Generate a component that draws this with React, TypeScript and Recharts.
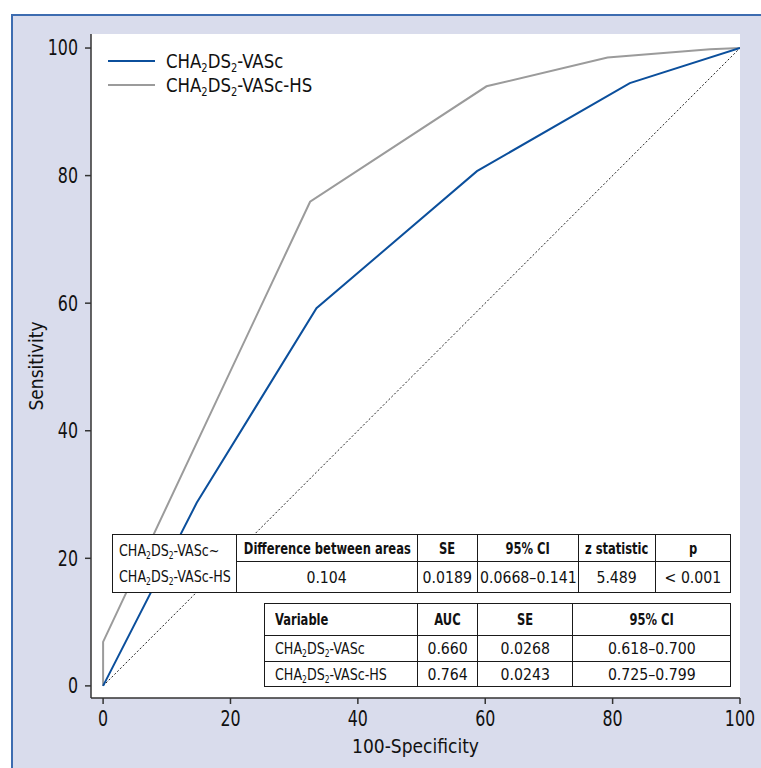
import React from "react";
import { CartesianGrid, Line, LineChart, XAxis, YAxis } from "recharts";

// ROC points (100-Specificity, Sensitivity)
const vascX = [0, 14.7, 33.5, 58.7, 82.7, 100];
const vascY = [0, 28.7, 59.2, 80.7, 94.5, 100];
const hsX = [0, 0, 32.5, 60.2, 79.2, 95.3, 100];
const hsY = [0, 6.9, 75.9, 94.0, 98.5, 99.8, 100];
const refX = [0, 100];
const refY = [0, 100];

const xTicks = [0, 20, 40, 60, 80, 100];
const yTicks = [0, 20, 40, 60, 80, 100];

const seriesNames = ["CHA2DS2-VASc", "CHA2DS2-VASc-HS"];
const seriesColors = ["#0b4f9c", "#9b9b9b"];

// comparison table
const diffLabels = ["CHA2DS2-VASc~", "CHA2DS2-VASc-HS"];
const diffHeaders = ["Difference between areas", "SE", "95% CI", "z statistic", "p"];
const diffValues = ["0.104", "0.0189", "0.0668–0.141", "5.489", "< 0.001"];

// AUC table
const aucHeaders = ["Variable", "AUC", "SE", "95% CI"];
const aucVariables = ["CHA2DS2-VASc", "CHA2DS2-VASc-HS"];
const aucValues = ["0.660", "0.764"];
const aucSE = ["0.0268", "0.0243"];
const aucCI = ["0.618–0.700", "0.725–0.799"];

const FONT = "'DejaVu Sans', sans-serif";
const BORDER = "1.5px solid #1a1a1a";

const toPoints = (xs: number[], ys: number[]) => xs.map((x, i) => ({ x, y: ys[i] }));

function Cha({ text }: { text: string }) {
  const parts = text.split("2");
  return (
    <>
      {parts.map((p, i) => (
        <span key={i}>
          {p}
          {i < parts.length - 1 && (
            <sub style={{ fontSize: "0.6em", verticalAlign: "-0.3em", lineHeight: 0 }}>2</sub>
          )}
        </span>
      ))}
    </>
  );
}

// squeeze text horizontally to mimic the condensed face of the original
function Sq({ s, left, children }: { s: number; left?: boolean; children: React.ReactNode }) {
  return (
    <div style={{ display: "flex", justifyContent: left ? "flex-start" : "center" }}>
      <span
        style={{
          display: "inline-block",
          whiteSpace: "nowrap",
          transform: `scaleX(${s})`,
          transformOrigin: left ? "left center" : "center center",
        }}
      >
        {children}
      </span>
    </div>
  );
}

const cell = (extra: React.CSSProperties = {}): React.CSSProperties => ({
  border: BORDER,
  padding: 0,
  textAlign: "center",
  whiteSpace: "nowrap",
  ...extra,
});

const HEAD_S = 0.8;
const LABEL_S = 0.88;
const NUM_S = 0.98;

function DiffTable() {
  const widths = [124, 181, 60, 101, 77, 75];
  return (
    <table
      style={{
        position: "absolute",
        left: 112,
        top: 534,
        width: 618,
        borderCollapse: "collapse",
        tableLayout: "fixed",
        background: "#fff",
        fontSize: 16,
        color: "#111",
      }}
    >
      <colgroup>
        {widths.map((w, i) => (
          <col key={i} style={{ width: w }} />
        ))}
      </colgroup>
      <tbody>
        <tr style={{ height: 27 }}>
          <td rowSpan={2} style={cell({ paddingLeft: 6, lineHeight: "26px" })}>
            <Sq s={LABEL_S} left>
              <Cha text={diffLabels[0]} />
            </Sq>
            <Sq s={LABEL_S} left>
              <Cha text={diffLabels[1]} />
            </Sq>
          </td>
          {diffHeaders.map((h) => (
            <td key={h} style={cell({ fontWeight: "bold" })}>
              <Sq s={HEAD_S}>{h}</Sq>
            </td>
          ))}
        </tr>
        <tr style={{ height: 31 }}>
          {diffValues.map((v, i) => (
            <td key={i} style={cell()}>
              <Sq s={NUM_S}>{v}</Sq>
            </td>
          ))}
        </tr>
      </tbody>
    </table>
  );
}

function AucTable() {
  const widths = [153, 60, 95, 158];
  const rowHeights = [26, 25];
  return (
    <table
      style={{
        position: "absolute",
        left: 264,
        top: 603,
        width: 466,
        borderCollapse: "collapse",
        tableLayout: "fixed",
        background: "#fff",
        fontSize: 16,
        color: "#111",
      }}
    >
      <colgroup>
        {widths.map((w, i) => (
          <col key={i} style={{ width: w }} />
        ))}
      </colgroup>
      <tbody>
        <tr style={{ height: 32 }}>
          {aucHeaders.map((h, i) => (
            <td key={h} style={cell(i === 0 ? { fontWeight: "bold", paddingLeft: 10 } : { fontWeight: "bold" })}>
              <Sq s={HEAD_S} left={i === 0}>
                {h}
              </Sq>
            </td>
          ))}
        </tr>
        {aucVariables.map((v, r) => (
          <tr key={v} style={{ height: rowHeights[r] }}>
            <td style={cell({ paddingLeft: 10 })}>
              <Sq s={LABEL_S} left>
                <Cha text={v} />
              </Sq>
            </td>
            <td style={cell()}>
              <Sq s={NUM_S}>{aucValues[r]}</Sq>
            </td>
            <td style={cell()}>
              <Sq s={NUM_S}>{aucSE[r]}</Sq>
            </td>
            <td style={cell()}>
              <Sq s={NUM_S}>{aucCI[r]}</Sq>
            </td>
          </tr>
        ))}
      </tbody>
    </table>
  );
}

function LegendBox() {
  return (
    <div style={{ position: "absolute", left: 108, top: 49, fontSize: 20, color: "#111" }}>
      {seriesNames.map((name, i) => (
        <div key={name} style={{ display: "flex", alignItems: "center", height: 24 }}>
          <div style={{ width: 47, height: 2, background: seriesColors[i], marginRight: 11 }} />
          <Sq s={0.92} left>
            <Cha text={name} />
          </Sq>
        </div>
      ))}
    </div>
  );
}

const TICK_SIZE = 20.5;
const TICK_S = 0.86;

function XTick(props: any) {
  const { x, y, payload } = props;
  return (
    <text
      transform={`translate(${x},${y}) scale(${TICK_S},1)`}
      textAnchor="middle"
      dy="0.71em"
      fill="#111"
      fontSize={TICK_SIZE}
      fontFamily={FONT}
    >
      {payload.value}
    </text>
  );
}

function YTick(props: any) {
  const { x, y, payload } = props;
  return (
    <text
      transform={`translate(${x},${y}) scale(${TICK_S},1)`}
      textAnchor="end"
      dy="0.36em"
      fill="#111"
      fontSize={TICK_SIZE}
      fontFamily={FONT}
    >
      {payload.value}
    </text>
  );
}

export default function App() {
  return (
    <div
      style={{
        position: "fixed",
        left: 0,
        top: 0,
        width: 761,
        height: 768,
        background: "#fff",
        fontFamily: FONT,
        fontStretch: "condensed",
        overflow: "hidden",
      }}
    >
      <div
        style={{
          position: "absolute",
          left: 11,
          top: 14,
          right: 0,
          bottom: 0,
          background: "#d9dcec",
          borderTop: "2px solid #3d6cb0",
          borderLeft: "2px solid #3d6cb0",
        }}
      />
      <div style={{ position: "absolute", left: 0, top: 0 }}>
        <LineChart width={761} height={768} margin={{ top: 34, right: 21, bottom: 0, left: 0 }}>
          <CartesianGrid fill="#fff" horizontal={false} vertical={false} />
          <XAxis
            type="number"
            dataKey="x"
            domain={[-1.9, 100]}
            ticks={xTicks}
            allowDataOverflow
            height={70}
            tickSize={6}
            tickMargin={7}
            axisLine={{ stroke: "#333", strokeWidth: 1.5 }}
            tickLine={{ stroke: "#333", strokeWidth: 1.5 }}
            tick={<XTick />}
            label={{
              value: "100-Specificity",
              position: "insideBottom",
              offset: 15,
              fill: "#111",
              fontSize: 19,
            }}
          />
          <YAxis
            type="number"
            dataKey="y"
            domain={[-1.9, 102.2]}
            ticks={yTicks}
            allowDataOverflow
            width={91}
            tickSize={6}
            tickMargin={7}
            axisLine={{ stroke: "#333", strokeWidth: 1.5 }}
            tickLine={{ stroke: "#333", strokeWidth: 1.5 }}
            tick={<YTick />}
            label={{
              value: "Sensitivity",
              angle: -90,
              position: "insideLeft",
              offset: 36,
              fill: "#111",
              fontSize: 19,
              style: { textAnchor: "middle" },
            }}
          />
          <Line
            data={toPoints(refX, refY)}
            dataKey="y"
            stroke="#222"
            strokeWidth={1}
            strokeDasharray="2 2"
            dot={false}
            activeDot={false}
            isAnimationActive={false}
            legendType="none"
          />
          <Line
            data={toPoints(hsX, hsY)}
            dataKey="y"
            name={seriesNames[1]}
            stroke={seriesColors[1]}
            strokeWidth={2}
            dot={false}
            activeDot={false}
            isAnimationActive={false}
          />
          <Line
            data={toPoints(vascX, vascY)}
            dataKey="y"
            name={seriesNames[0]}
            stroke={seriesColors[0]}
            strokeWidth={2}
            dot={false}
            activeDot={false}
            isAnimationActive={false}
          />
        </LineChart>
      </div>
      <LegendBox />
      <DiffTable />
      <AucTable />
    </div>
  );
}
